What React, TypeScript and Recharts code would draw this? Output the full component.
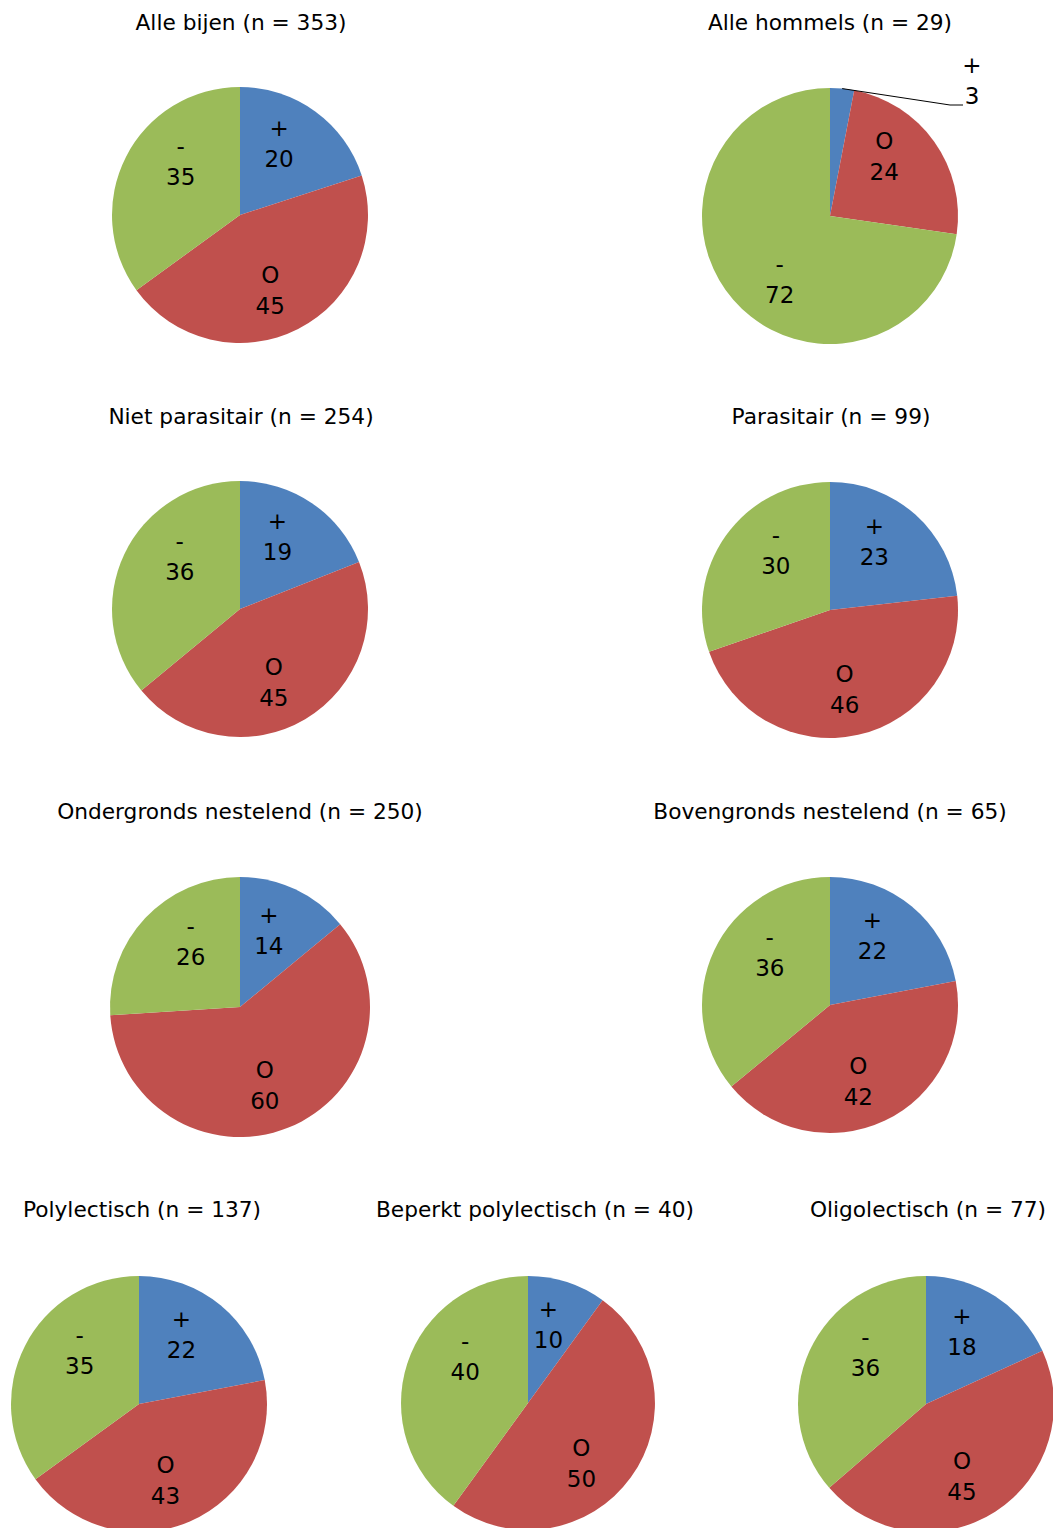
import React from 'react';
import { PieChart, Pie, Cell } from 'recharts';

// Trend classes: increase, stable, decrease
const SYMBOLS = ['+', 'O', '-'];
const COLORS = ['#4F81BD', '#C0504D', '#9BBB59'];

// Percentage of species per trend class
const alleBijen = [20, 45, 35];
const alleHommels = [3, 24, 72];
const nietParasitair = [19, 45, 36];
const parasitair = [23, 46, 30];
const ondergronds = [14, 60, 26];
const bovengronds = [22, 42, 36];
const polylectisch = [22, 43, 35];
const beperktPolylectisch = [10, 50, 40];
const oligolectisch = [18, 45, 36];

const TITLES = [
  'Alle bijen (n = 353)',
  'Alle hommels (n = 29)',
  'Niet parasitair (n = 254)',
  'Parasitair (n = 99)',
  'Ondergronds nestelend (n = 250)',
  'Bovengronds nestelend (n = 65)',
  'Polylectisch (n = 137)',
  'Beperkt polylectisch (n = 40)',
  'Oligolectisch (n = 77)',
];

const SERIES = [
  alleBijen,
  alleHommels,
  nietParasitair,
  parasitair,
  ondergronds,
  bovengronds,
  polylectisch,
  beperktPolylectisch,
  oligolectisch,
];

// Layout of each small pie: centre, radius, title position
const LAYOUT = [
  { cx: 240, cy: 215, r: 128, tx: 241, ty: 23 },
  { cx: 830, cy: 216, r: 128, tx: 830, ty: 23 },
  { cx: 240, cy: 609, r: 128, tx: 241, ty: 417 },
  { cx: 830, cy: 610, r: 128, tx: 831, ty: 417 },
  { cx: 240, cy: 1007, r: 130, tx: 240, ty: 812 },
  { cx: 830, cy: 1005, r: 128, tx: 830, ty: 812 },
  { cx: 139, cy: 1404, r: 128, tx: 142, ty: 1210 },
  { cx: 528, cy: 1403, r: 127, tx: 535, ty: 1210 },
  { cx: 926, cy: 1404, r: 128, tx: 928, ty: 1210 },
];

const FONT = '"DejaVu Sans", Verdana, sans-serif';
const RAD = Math.PI / 180;
const LABEL_SIZE = 23;
const TITLE_SIZE = 21.7;
const LINE_GAP = 31;

const makeLabel = (outsideIndex: number | null) => (props: any) => {
  const { cx, cy, midAngle, outerRadius, index, value } = props;
  const sym = SYMBOLS[index];
  if (outsideIndex === index) {
    // small slice: label outside with a leader line
    const sx = cx + outerRadius * Math.cos(-midAngle * RAD);
    const sy = cy + outerRadius * Math.sin(-midAngle * RAD);
    const ex = cx + 120;
    const ey = cy - 111;
    return (
      <g>
        <polyline
          points={`${sx},${sy} ${ex},${ey} ${ex + 13},${ey}`}
          fill="none"
          stroke="#000"
          strokeWidth={1}
        />
        <text textAnchor="middle" fontFamily={FONT} fontSize={LABEL_SIZE} fill="#000">
          <tspan x={ex + 22} y={ey - 40} dominantBaseline="central">{sym}</tspan>
          <tspan x={ex + 22} y={ey - 9} dominantBaseline="central">{value}</tspan>
        </text>
      </g>
    );
  }
  // label block: horizontal offset along the mid angle, vertical pushed outward by half the block
  const s = Math.cos(-midAngle * RAD);
  const c = -Math.sin(-midAngle * RAD);
  const x = cx + outerRadius * 0.52 * s;
  const y = cy - (outerRadius * 0.39 * c + 31 * Math.sign(c));
  return (
    <text textAnchor="middle" fontFamily={FONT} fontSize={LABEL_SIZE} fill="#000">
      <tspan x={x} y={y - LINE_GAP / 2} dominantBaseline="central">{sym}</tspan>
      <tspan x={x} y={y + LINE_GAP / 2} dominantBaseline="central">{value}</tspan>
    </text>
  );
};

export default function App() {
  return (
    <div style={{ position: 'absolute', left: 0, top: 0, width: 1053, height: 1528, background: '#fff' }}>
      <PieChart width={1053} height={1528} margin={{ top: 0, right: 0, bottom: 0, left: 0 }}>
        {SERIES.map((vals, i) => {
          const data = vals.map((v, k) => ({ name: SYMBOLS[k], value: v }));
          const l = LAYOUT[i];
          return (
            <Pie
              key={i}
              data={data}
              dataKey="value"
              nameKey="name"
              cx={l.cx}
              cy={l.cy}
              outerRadius={l.r}
              startAngle={90}
              endAngle={-270}
              stroke="none"
              labelLine={false}
              label={makeLabel(i === 1 ? 0 : null)}
              isAnimationActive={false}
            >
              {data.map((_, k) => (
                <Cell key={k} fill={COLORS[k]} />
              ))}
            </Pie>
          );
        })}
      </PieChart>
      {TITLES.map((t, i) => (
        <div
          key={i}
          style={{
            position: 'absolute',
            left: LAYOUT[i].tx - 250,
            top: LAYOUT[i].ty - 15,
            width: 500,
            height: 30,
            lineHeight: '30px',
            textAlign: 'center',
            fontFamily: FONT,
            fontSize: TITLE_SIZE,
            color: '#000',
            whiteSpace: 'nowrap',
          }}
        >
          {t}
        </div>
      ))}
    </div>
  );
}
